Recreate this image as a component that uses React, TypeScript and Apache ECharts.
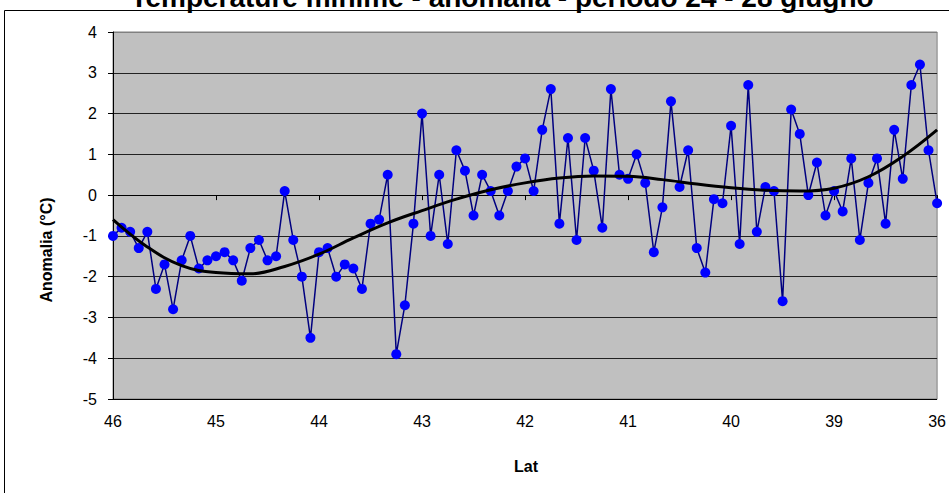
import React, { useEffect, useRef } from "react";
import * as echarts from "echarts";

// Anomaly of minimum temperature per station (ordered by latitude, N -> S)
const anomalies = [
  -1.0, -0.8, -0.9, -1.3, -0.9, -2.3, -1.7, -2.8, -1.6, -1.0,
  -1.8, -1.6, -1.5, -1.4, -1.6, -2.1, -1.3, -1.1, -1.6, -1.5,
  0.1, -1.1, -2.0, -3.5, -1.4, -1.3, -2.0, -1.7, -1.8, -2.3,
  -0.7, -0.6, 0.5, -3.9, -2.7, -0.7, 2.0, -1.0, 0.5, -1.2,
  1.1, 0.6, -0.5, 0.5, 0.1, -0.5, 0.1, 0.7, 0.9, 0.1,
  1.6, 2.6, -0.7, 1.4, -1.1, 1.4, 0.6, -0.8, 2.6, 0.5,
  0.4, 1.0, 0.3, -1.4, -0.3, 2.3, 0.2, 1.1, -1.3, -1.9,
  -0.1, -0.2, 1.7, -1.2, 2.7, -0.9, 0.2, 0.1, -2.6, 2.1,
  1.5, 0.0, 0.8, -0.5, 0.1, -0.4, 0.9, -1.1, 0.3, 0.9,
  -0.7, 1.6, 0.4, 2.7, 3.2, 1.1, -0.2,
];

// Tick labels shown every 12 stations
const latTickLabels = ["46", "45", "44", "43", "42", "41", "40", "39", "36"];
const labelEvery = 12;

// Polynomial trend line (station index -> value)
const trendIndex = [0, 4, 8, 12, 16, 20, 24, 28, 32, 36, 40, 44, 48, 52, 56, 60, 64, 68, 72, 76, 80, 84, 88, 92, 96];
const trendValues = [-0.6, -1.27, -1.73, -1.9, -1.93, -1.75, -1.45, -1.05, -0.68, -0.38, -0.1, 0.13, 0.3, 0.42, 0.47, 0.46, 0.38, 0.27, 0.18, 0.12, 0.1, 0.17, 0.45, 0.95, 1.6];

const yTicks = { min: -5, max: 4, interval: 1 };

const titleText = "Temperature minime - anomalia - periodo 24 - 28 giugno";
const xName = "Lat";
const yName = "Anomalia (°C)";

const FONT = "'Liberation Sans', Arial, sans-serif";

export default function App() {
  const ref = useRef<HTMLDivElement>(null);

  useEffect(() => {
    document.body.style.margin = "0";
    if (!ref.current) return;
    const chart = echarts.init(ref.current, null, { renderer: "svg" });
    const categories = anomalies.map((_, i) => String(i));
    const gridColors = [
      "#000", "#222", "#222", "#222", "#222", "#222", "#222", "#222", "#222", "#808080",
    ];
    chart.setOption({
      animation: false,
      backgroundColor: "#ffffff",
      textStyle: { fontFamily: FONT },
      grid: {
        left: 113,
        top: 32,
        width: 825,
        height: 367,
        show: true,
        backgroundColor: "#c0c0c0",
        borderColor: "#808080",
        borderWidth: 1,
      },
      graphic: [
        {
          type: "rect",
          shape: { x: 4.5, y: 10.5, width: 1000, height: 600 },
          style: { fill: "none", stroke: "#000", lineWidth: 1 },
          silent: true,
          z: -1,
        },
        {
          type: "text",
          x: 502,
          y: 11,
          style: {
            text: titleText,
            font: `bold 28px ${FONT}`,
            fill: "#000",
            textAlign: "center",
            textVerticalAlign: "bottom",
          },
        },
        {
          type: "text",
          x: 46,
          y: 250,
          rotation: Math.PI / 2,
          style: {
            text: yName,
            font: `bold 16px ${FONT}`,
            fill: "#000",
            textAlign: "center",
            textVerticalAlign: "middle",
          },
        },
        {
          type: "text",
          x: 526,
          y: 466,
          style: {
            text: xName,
            font: `bold 16px ${FONT}`,
            fill: "#000",
            textAlign: "center",
            textVerticalAlign: "middle",
          },
        },
      ],
      xAxis: {
        type: "category",
        data: categories,
        boundaryGap: false,
        axisLine: { show: true, lineStyle: { color: "#000", width: 1 } },
        axisTick: {
          show: true,
          interval: labelEvery - 1,
          length: 5,
          lineStyle: { color: "#000" },
        },
        axisLabel: {
          interval: labelEvery - 1,
          margin: 14,
          fontSize: 16,
          color: "#000",
          fontFamily: FONT,
          formatter: (_v: string, idx: number) =>
            idx % labelEvery === 0 ? latTickLabels[idx / labelEvery] ?? "" : "",
        },
        splitLine: { show: false },
      },
      yAxis: {
        type: "value",
        min: yTicks.min,
        max: yTicks.max,
        interval: yTicks.interval,
        axisLine: { show: true, lineStyle: { color: "#000", width: 1 } },
        axisTick: { show: true, length: 5, lineStyle: { color: "#000" } },
        axisLabel: {
          margin: 16,
          fontSize: 16,
          color: "#000",
          fontFamily: FONT,
        },
        splitLine: { show: true, lineStyle: { color: gridColors, width: 1 } },
      },
      series: [
        {
          type: "line",
          data: anomalies,
          symbol: "circle",
          symbolSize: 10,
          showSymbol: true,
          showAllSymbol: true,
          lineStyle: { color: "#000080", width: 1.5 },
          itemStyle: { color: "#0000ff", borderWidth: 0 },
          z: 2,
        },
        {
          type: "line",
          data: trendIndex.map((idx, k) => [idx, trendValues[k]]),
          smooth: 0.4,
          symbol: "none",
          lineStyle: { color: "#000", width: 3 },
          z: 3,
        },
      ],
    });
    return () => chart.dispose();
  }, []);

  return <div ref={ref} style={{ width: 949, height: 493 }} />;
}
